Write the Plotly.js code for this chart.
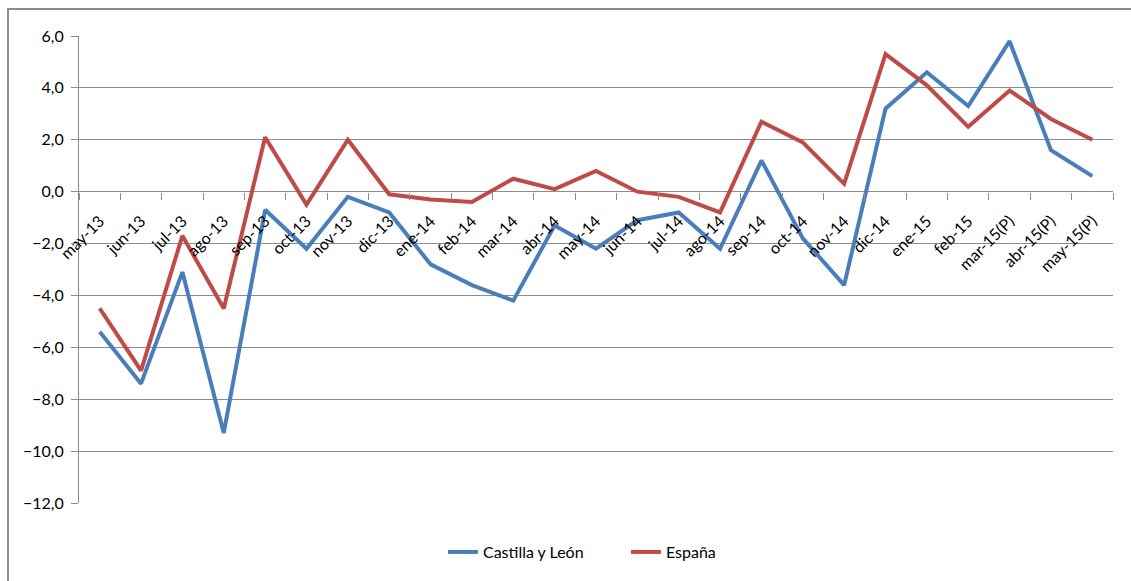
<!DOCTYPE html>
<html>
<head>
<meta charset="utf-8">
<script src="https://cdn.plot.ly/plotly-3.0.1.min.js"></script>
<style>
  html, body { margin: 0; padding: 0; background: #fff; overflow: hidden; }
  #frame { position: absolute; left: 7px; top: 8px; width: 1200px; height: 700px; border: 2px solid #8c8c8c; }
  #chart { position: absolute; left: 0; top: 0; width: 1131px; height: 581px; }
</style>
</head>
<body>
<div id="frame"></div>
<div id="chart"></div>
<script>
const categories = ["may-13","jun-13","jul-13","ago-13","sep-13","oct-13","nov-13","dic-13",
  "ene-14","feb-14","mar-14","abr-14","may-14","jun-14","jul-14","ago-14","sep-14","oct-14",
  "nov-14","dic-14","ene-15","feb-15","mar-15(P)","abr-15(P)","may-15(P)"];
const castillaLeon = [-5.4,-7.4,-3.1,-9.3,-0.7,-2.2,-0.2,-0.8,-2.8,-3.6,-4.2,-1.3,-2.2,-1.1,-0.8,-2.2,1.2,-1.8,-3.6,3.2,4.6,3.3,5.8,1.6,0.6];
const espana = [-4.5,-6.9,-1.7,-4.5,2.1,-0.5,2.0,-0.1,-0.3,-0.4,0.5,0.1,0.8,0.0,-0.2,-0.8,2.7,1.9,0.3,5.3,4.1,2.5,3.9,2.8,2.0];

const fontFam = "Lato, 'Open Sans', sans-serif";
const traces = [
  { x: categories, y: castillaLeon, type: "scatter", mode: "lines", name: "Castilla y León",
    line: { color: "#4a7ebb", width: 4 } },
  { x: categories, y: espana, type: "scatter", mode: "lines", name: "España",
    line: { color: "#be4b48", width: 4 } }
];
const layout = {
  width: 1131, height: 581,
  margin: { l: 79, r: 18, t: 36, b: 78 },
  paper_bgcolor: "rgba(0,0,0,0)",
  plot_bgcolor: "rgba(0,0,0,0)",
  separators: ", ",
  font: { family: fontFam, size: 15, color: "#000" },
  showlegend: true,
  legend: { orientation: "h", x: 0.352, xanchor: "left", y: -0.105, yanchor: "middle",
    entrywidth: 138, entrywidthmode: "pixels",
    font: { family: fontFam, size: 16, color: "#000" } },
  xaxis: {
    type: "category",
    anchor: "free", position: 12/18,
    tickangle: -45,
    ticks: "outside", tickson: "boundaries", ticklen: 7, tickcolor: "#8c8c8c", tickwidth: 1,
    ticklabelstandoff: 16,
    showgrid: false, showline: false, zeroline: false,
    tickfont: { family: fontFam, size: 16, color: "#000" },
    range: [-0.5, 24.5]
  },
  yaxis: {
    range: [-12, 6], dtick: 2, tick0: 0, tickformat: ".1f",
    showgrid: true, gridcolor: "#8c8c8c", gridwidth: 1,
    zeroline: true, zerolinecolor: "#8c8c8c", zerolinewidth: 1,
    showline: true, linecolor: "#8c8c8c", linewidth: 1,
    ticks: "outside", ticklen: 7, tickcolor: "#8c8c8c",
    ticklabelstandoff: 4,
    tickfont: { family: fontFam, size: 16, color: "#000" }
  }
};
Plotly.newPlot("chart", traces, layout, { displayModeBar: false, staticPlot: true });
</script>
</body>
</html>
